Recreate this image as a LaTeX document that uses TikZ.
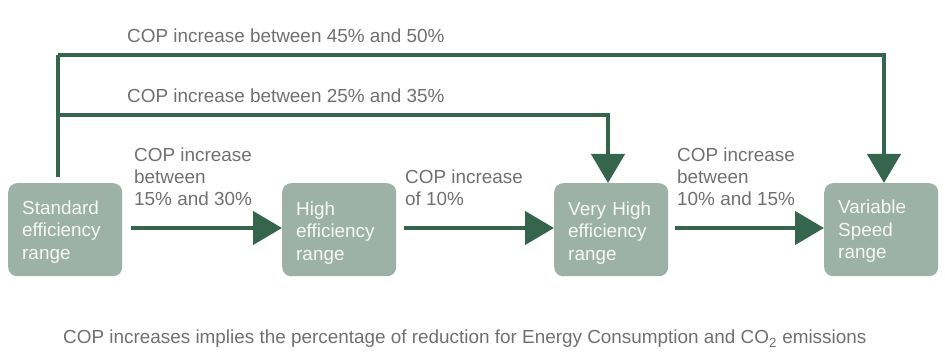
\documentclass[tikz,border=0pt]{standalone}
\usepackage{fontspec}
\setmainfont{Liberation Sans}
\usetikzlibrary{arrows.meta}
\definecolor{lineg}{HTML}{35664D}
\definecolor{boxg}{HTML}{9DB2A6}
\definecolor{txtg}{HTML}{707070}
\begin{document}
\begin{tikzpicture}[x=1pt,y=-1pt,
  box/.style={fill=boxg, rounded corners=9pt, minimum width=114pt, minimum height=93pt, text width=86pt, align=left, inner xsep=14pt, text={black!3}, font=\fontsize{18.9}{22.5}\selectfont, anchor=north west},
  lbl/.style={text=txtg, font=\fontsize{18.9}{22}\selectfont, align=left, anchor=west, inner sep=0pt},
  conn/.style={draw=lineg, line width=4.5pt, -{Triangle[length=29pt,width=33pt]}},
  plain/.style={draw=lineg, line width=4.5pt}]
\useasboundingbox (0,0) rectangle (945,358);
\node[box] (b1) at (8,183) {\rule{0pt}{18pt}Standard\\efficiency\\range};
\node[box] (b2) at (282,183) {\rule{0pt}{20pt}High\\efficiency\\range};
\node[box] (b3) at (554,183) {\rule{0pt}{20pt}Very High\\efficiency\\range};
\node[box] (b4) at (824,183) {\rule{0pt}{17pt}Variable\\Speed\\range};

\coordinate (s0) at (58,177);
\coordinate (s1) at (58,55);
\coordinate (s2) at (58,115);
\coordinate (t3) at (608,183);
\coordinate (t4) at (884,183);
\coordinate (h1) at (131,228);
\coordinate (h2) at (404,228);
\coordinate (h3) at (675,228);

\draw[plain] (s0) -- (s1);
\draw[conn] (s1) -| (t4);
\draw[conn] (s2) -| (t3);
\draw[conn] (h1) -- (h1 -| b2.west);
\draw[conn] (h2) -- (h2 -| b3.west);
\draw[conn] (h3) -- (h3 -| b4.west);

\node[lbl] (l1) at (127,36) {COP increase between 45\% and 50\%};
\node[lbl] (l2) at (127,96) {COP increase between 25\% and 35\%};
\node[lbl] (l3) at (134,177) {COP increase\\between\\15\% and 30\%};
\node[lbl] (l4) at (405,188) {COP increase\\of 10\%};
\node[lbl] (l5) at (677,177) {COP increase\\between\\10\% and 15\%};
\node[lbl] (cap) at (63,339) {COP increases implies the percentage of reduction for Energy Consumption and CO\textsubscript{2} emissions};
\end{tikzpicture}
\end{document}
